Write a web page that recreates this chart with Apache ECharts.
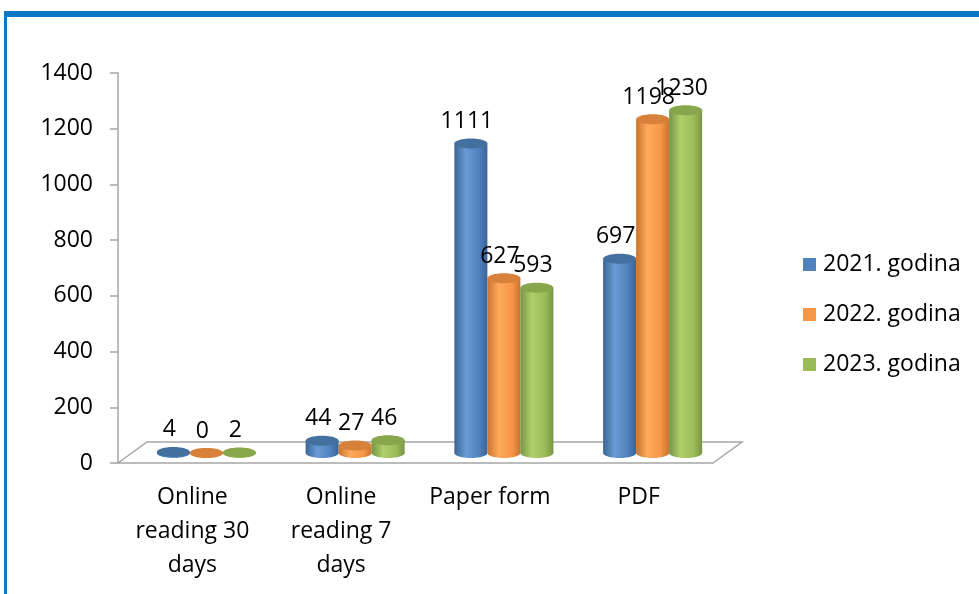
<!DOCTYPE html>
<html>
<head>
<meta charset="utf-8">
<script src="https://cdn.jsdelivr.net/npm/echarts@6/dist/echarts.min.js"></script>
<style>
    html, body { margin: 0; padding: 0; background: #fff; }
    #main { width: 979px; height: 594px; }
</style>
</head>
<body>
<div id="main"></div>
<script>
// data
const categories = ['Online\nreading 30\ndays', 'Online\nreading 7\ndays', 'Paper form', 'PDF']
const seriesNames = ['2021. godina', '2022. godina', '2023. godina']
const values2021 = [4, 44, 1111, 697]
const values2022 = [0, 27, 627, 1198]
const values2023 = [2, 46, 593, 1230]
const yTicks = { min: 0, max: 1400, step: 200 }

// cylinder colours (edge, highlight, top)
const palettes = [
    { base: '#4F81BD', dark: '#3A6496', light: '#6A9BD6', top: '#44709F' },
    { base: '#F79646', dark: '#C8742F', light: '#FFAA5C', top: '#D7813A' },
    { base: '#9BBB59', dark: '#789443', light: '#B0CF6C', top: '#88A64C' }
]

const FONT = '"Open Sans", "Noto Sans", sans-serif'
const FS = 23
const BAR_W = 33
const DX = 14     // shift of bars into the depth
const DY = -10
const DEPTH_X = 29
const DEPTH_Y = -21

const myChart = echarts.init(document.getElementById('main'))

function cylinder(idx) {
    let p = palettes[idx]
    return function (params, api) {
        let cat = api.value(0)
        let val = api.value(1)
        let base = api.coord([cat, 0])
        let top = api.coord([cat, val])
        let cx = base[0] + DX + (idx - 1) * BAR_W
        let yb = base[1] + DY
        let yt = top[1] + DY
        let rx = BAR_W / 2
        let ry = 5
        let grad = new echarts.graphic.LinearGradient(0, 0, 1, 0, [
            { offset: 0, color: p.dark },
            { offset: 0.35, color: p.light },
            { offset: 0.75, color: p.base },
            { offset: 1, color: p.dark }
        ])
        return {
            type: 'group',
            children: [
                { type: 'ellipse', shape: { cx: cx, cy: yb, rx: rx, ry: ry }, style: { fill: grad } },
                { type: 'rect', shape: { x: cx - rx, y: yt, width: BAR_W, height: yb - yt }, style: { fill: grad } },
                { type: 'ellipse', shape: { cx: cx, cy: yt, rx: rx, ry: ry }, style: { fill: p.top } },
                {
                    type: 'text',
                    style: {
                        text: String(val), x: cx - 4, y: yt - 22,
                        align: 'center', verticalAlign: 'middle',
                        fontSize: FS, fontFamily: FONT, fill: '#000'
                    }
                }
            ]
        }
    }
}

function floor(params, api) {
    let cs = params.coordSys
    let x0 = cs.x, x1 = cs.x + cs.width, y = cs.y + cs.height
    return {
        type: 'polyline',
        shape: {
            points: [[x0, y], [x0 + DEPTH_X, y + DEPTH_Y], [x1 + DEPTH_X, y + DEPTH_Y], [x1, y]]
        },
        style: { stroke: '#A6A6A6', lineWidth: 1.5, fill: null }
    }
}

const allValues = [values2021, values2022, values2023]

let series = [{
    name: 'floor',
    type: 'custom',
    renderItem: floor,
    data: [[0, 0]],
    z: 1,
    silent: true
}]
allValues.forEach(function (vals, i) {
    series.push({
        name: seriesNames[i],
        type: 'custom',
        renderItem: cylinder(i),
        itemStyle: { color: palettes[i].base },
        encode: { x: 0, y: 1 },
        data: vals.map(function (v, k) { return [k, v] }),
        z: 2 + i
    })
})

const option = {
    animation: false,
    textStyle: { fontFamily: FONT },
    graphic: [
        { type: 'rect', shape: { x: 4, y: 11, width: 975, height: 6 }, style: { fill: '#0A78C4' } },
        { type: 'rect', shape: { x: 4, y: 11, width: 3, height: 583 }, style: { fill: '#0A78C4' } }
    ],
    legend: {
        data: seriesNames,
        orient: 'vertical',
        left: 798,
        top: 248,
        itemWidth: 13,
        itemHeight: 13,
        itemGap: 27,
        icon: 'rect',
        textStyle: { fontSize: FS, lineHeight: 23, fontFamily: FONT, color: '#000', padding: [0, 0, 0, 2] }
    },
    grid: { left: 118, right: 266, top: 73, bottom: 131 },
    xAxis: {
        type: 'category',
        data: categories,
        axisLine: { lineStyle: { color: '#A6A6A6', width: 1.5 } },
        axisTick: { length: 8, lineStyle: { color: '#A6A6A6', width: 1.5 } },
        axisLabel: { interval: 0, fontSize: FS, lineHeight: 34, margin: 17, color: '#000', fontFamily: FONT }
    },
    yAxis: {
        type: 'value',
        min: yTicks.min,
        max: yTicks.max,
        interval: yTicks.step,
        splitLine: { show: false },
        axisLine: { show: true, lineStyle: { color: '#A6A6A6', width: 1.5 } },
        axisTick: { show: true, length: 8, lineStyle: { color: '#A6A6A6', width: 1.5 } },
        axisLabel: {
            margin: 25, fontSize: FS, color: '#000', fontFamily: FONT,
            formatter: function (v) { return String(v) }
        }
    },
    series: series
}

myChart.setOption(option)
</script>
</body>
</html>
